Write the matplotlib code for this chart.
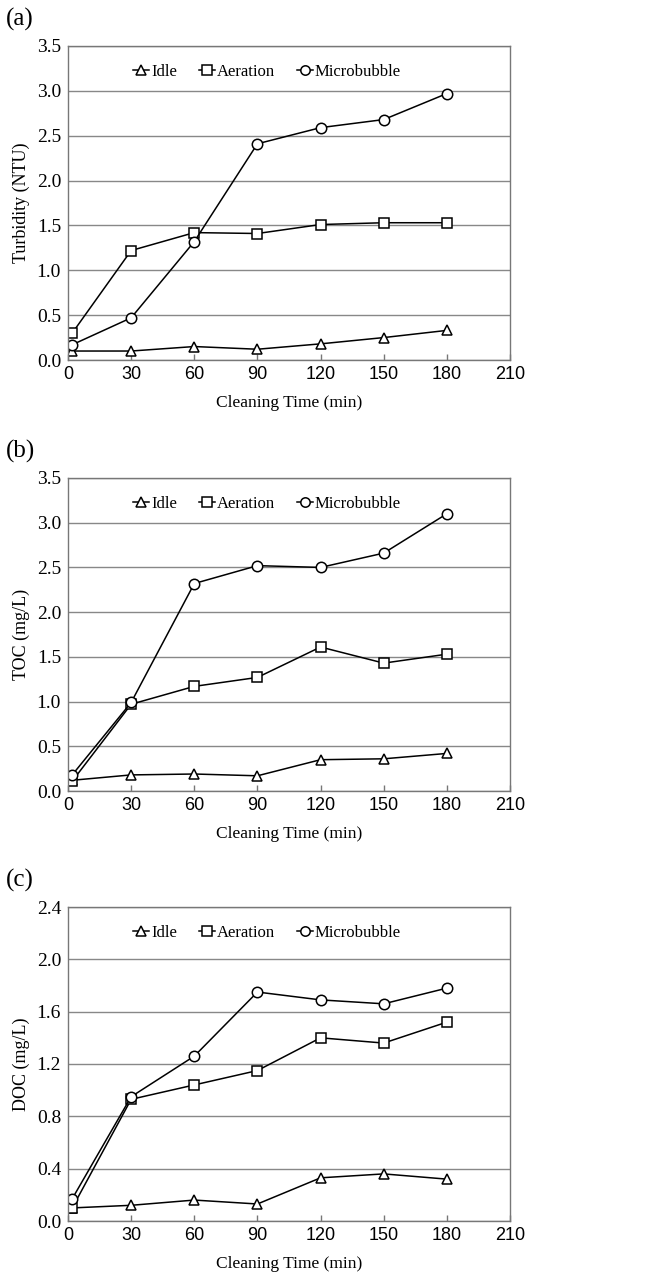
import matplotlib
matplotlib.use('Agg')
import matplotlib.pyplot as plt

# Data
time = [2, 30, 60, 90, 120, 150, 180]
series_names = ['Idle', 'Aeration', 'Microbubble']

turb_idle = [0.10, 0.10, 0.15, 0.12, 0.18, 0.25, 0.33]
turb_aer = [0.30, 1.22, 1.42, 1.41, 1.51, 1.53, 1.53]
turb_mb = [0.17, 0.47, 1.32, 2.41, 2.59, 2.68, 2.97]

toc_idle = [0.12, 0.18, 0.19, 0.17, 0.35, 0.36, 0.42]
toc_aer = [0.11, 0.97, 1.17, 1.27, 1.61, 1.43, 1.53]
toc_mb = [0.18, 0.99, 2.32, 2.52, 2.50, 2.66, 3.10]

doc_idle = [0.10, 0.12, 0.16, 0.13, 0.33, 0.36, 0.32]
doc_aer = [0.10, 0.93, 1.04, 1.15, 1.40, 1.36, 1.52]
doc_mb = [0.17, 0.95, 1.26, 1.75, 1.69, 1.66, 1.78]

x_ticks = [0, 30, 60, 90, 120, 150, 180, 210]

panels = [
    ('(a)', 'Turbidity (NTU)', [turb_idle, turb_aer, turb_mb], 3.5, 0.5),
    ('(b)', 'TOC (mg/L)', [toc_idle, toc_aer, toc_mb], 3.5, 0.5),
    ('(c)', 'DOC (mg/L)', [doc_idle, doc_aer, doc_mb], 2.4, 0.4),
]
markers = ['^', 's', 'o']

serif = 'Liberation Serif'
sans = 'Liberation Sans'

W, H = 648, 1279
fig = plt.figure(figsize=(W / 100, H / 100), dpi=100)

# axes boxes in pixels: (top, bottom)
boxes = [(46, 360), (478, 791), (907, 1221)]
left_px, right_px = 68, 510

for (tag, ylabel, data, ymax, ystep), (top, bot) in zip(panels, boxes):
    ax = fig.add_axes([left_px / W, 1 - bot / H, (right_px - left_px) / W, (bot - top) / H])
    for vals, m, name in zip(data, markers, series_names):
        ax.plot(time, vals, color='black', lw=1.1, marker=m, markersize=7.5,
                markerfacecolor='white', markeredgecolor='black', markeredgewidth=1.1,
                label=name)
    ax.set_xlim(0, 210)
    ax.set_ylim(0, ymax)
    ax.set_xticks(x_ticks)
    n = int(round(ymax / ystep))
    yt = [i * ystep for i in range(n + 1)]
    ax.set_yticks(yt)
    ax.set_yticklabels(['%.1f' % v for v in yt], fontsize=14, family=serif)
    ax.set_xticklabels([str(v) for v in x_ticks], fontsize=13, family=sans)
    ax.grid(axis='y', color='#888888', lw=1.0)
    ax.set_axisbelow(True)
    for s in ax.spines.values():
        s.set_color('#777777')
        s.set_linewidth(1.0)
    ax.tick_params(axis='y', length=0, pad=5)
    ax.tick_params(axis='x', direction='in', length=4, width=1, color='#777777', pad=4)
    ax.set_xlabel('Cleaning Time (min)', fontsize=12.5, family=serif, labelpad=9)
    ax.set_ylabel(ylabel, fontsize=13, family=serif, labelpad=5)
    ax.legend(loc='upper center', bbox_to_anchor=(0.45, 0.99), ncol=3, frameon=False,
              handlelength=1.0, handletextpad=0.1, columnspacing=1.3,
              prop={'family': serif, 'size': 12}, markerscale=0.9)
    fig.text(6 / W, 1 - (top - 27) / H, tag, fontsize=18, family=serif, va='center', ha='left')

fig.savefig('out.png', dpi=100)
